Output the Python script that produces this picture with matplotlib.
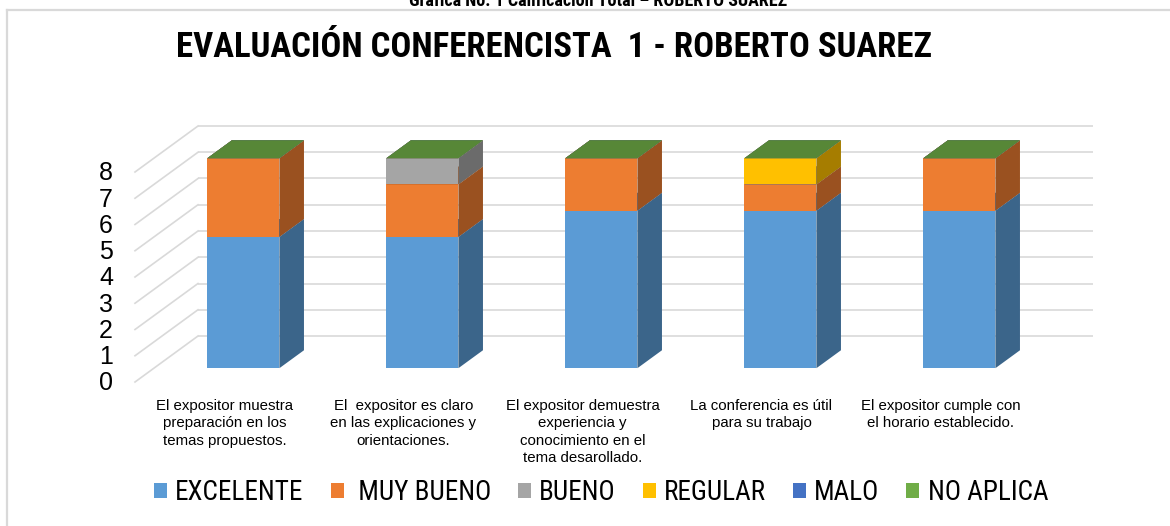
import matplotlib
matplotlib.use("Agg")
import matplotlib.pyplot as plt
from matplotlib.patches import Polygon, Patch
from matplotlib.lines import Line2D
import matplotlib.colors as mcolors

# ---------------- data ----------------
categories = [
    "El expositor muestra\npreparación en los\ntemas propuestos.",
    "El  expositor es claro\nen las explicaciones y\norientaciones.",
    "El expositor demuestra\nexperiencia y\nconocimiento en el\ntema desarollado.",
    "La conferencia es útil\npara su trabajo",
    "El expositor cumple con\nel horario establecido.",
]
series_names = ["EXCELENTE", " MUY BUENO", "BUENO", "REGULAR", "MALO", "NO APLICA"]
excelente = [5, 5, 6, 6, 6]
muy_bueno = [3, 2, 2, 1, 2]
bueno = [0, 1, 0, 0, 0]
regular = [0, 0, 0, 1, 0]
malo = [0, 0, 0, 0, 0]
no_aplica = [0, 0, 0, 0, 0]
series_values = [excelente, muy_bueno, bueno, regular, malo, no_aplica]
y_ticks = [0, 1, 2, 3, 4, 5, 6, 7, 8]
title = "EVALUACIÓN CONFERENCISTA  1 - ROBERTO SUAREZ"
caption = "Gráfica No. 1 Calificación Total – ROBERTO SUAREZ"

colors = ["#5B9BD5", "#ED7D31", "#A5A5A5", "#FFC000", "#4472C4", "#70AD47"]

# ---------------- layout ----------------
W, H = 1170, 526
fig = plt.figure(figsize=(W / 100, H / 100), dpi=100)
fig.patch.set_facecolor("white")

NARROW = ["Roboto Condensed", "Liberation Sans", "DejaVu Sans"]
REG = ["Liberation Sans", "DejaVu Sans"]

slot_px = 179.0      # pixels per category slot
unit_px = 26.25      # pixels per value unit
DX = 63.0 / slot_px  # full depth offset (x, in category units)
DY = 46.0 / unit_px  # full depth offset (y, in value units)
YMAX = 8
x0_px, y0_px = 135.0, 382.0  # front-left floor corner
ax_w = (len(categories) + DX) * slot_px
ax_h = (YMAX + DY) * unit_px
ax = fig.add_axes([x0_px / W, (H - y0_px) / H, ax_w / W, ax_h / H])
ax.set_xlim(-0.5, len(categories) - 0.5 + DX)
ax.set_ylim(0, YMAX + DY)
ax.axis("off")

grid_c = "#D9D9D9"
xl, xr = -0.5, len(categories) - 0.5
for v in y_ticks:
    ax.plot([xl + DX, xr + DX], [v + DY, v + DY], color=grid_c, lw=1.2,
            solid_capstyle="butt", clip_on=False, zorder=1)
    ax.plot([xl, xl + DX], [v, v + DY], color=grid_c, lw=1.2,
            clip_on=False, zorder=1)
    ax.text(xl - 22 / slot_px, v - 0.05, str(v), ha="right", va="center",
            fontsize=18, family=REG, color="black")


def shade(c, f):
    r, g, b = mcolors.to_rgb(c)
    return (r * f, g * f, b * f)


bar_w = 72.0 / slot_px
d_front, d_back = 0.30, 0.69
fx, fy = d_front * DX, d_front * DY
dd = d_back - d_front
for i in range(len(categories)):
    cum = 0.0
    for s, vals in enumerate(series_values):
        v = vals[i]
        c = colors[s]
        left = i + fx - bar_w / 2
        bottom = cum + fy
        if v > 0:
            ax.bar(i + fx, v, width=bar_w, bottom=bottom, color=c,
                   linewidth=0, zorder=3)
            side = [(left + bar_w, bottom), (left + bar_w + dd * DX, bottom + dd * DY),
                    (left + bar_w + dd * DX, bottom + v + dd * DY), (left + bar_w, bottom + v)]
            ax.add_patch(Polygon(side, closed=True, facecolor=shade(c, 0.65),
                                 edgecolor="none", zorder=3))
        top_y = bottom + v
        top = [(left, top_y), (left + bar_w, top_y),
               (left + bar_w + dd * DX, top_y + dd * DY), (left + dd * DX, top_y + dd * DY)]
        ax.add_patch(Polygon(top, closed=True, facecolor=shade(c, 0.78),
                             edgecolor="none", zorder=3))
        cum += v
    ax.text(i, -17 / unit_px, categories[i], ha="center", va="top",
            fontsize=10.8, family=REG, linespacing=1.3, color="black")

# ---------------- texts ----------------
fig.text(554 / W, 1 - 57 / H, title, ha="center", va="baseline",
         fontsize=25, fontweight="bold", family=NARROW, color="black")
fig.text(598 / W, 1 - 6 / H, caption, ha="center", va="baseline",
         fontsize=13, fontweight="bold", family=NARROW, color="black")

# chart border
fig.add_artist(Line2D([6.5 / W, 6.5 / W], [0, 1 - 10 / H], color="#D9D9D9", lw=1.6))
fig.add_artist(Line2D([6.5 / W, 1], [1 - 10 / H, 1 - 10 / H], color="#D9D9D9", lw=1.6))

# legend
handles = [Patch(facecolor=c, edgecolor="none") for c in colors]
fig.legend(handles, series_names, loc="center", ncol=6,
           bbox_to_anchor=(601 / W, 1 - 493 / H), frameon=False,
           prop={"family": NARROW, "size": 19.5},
           handlelength=0.48, handleheight=0.48, handletextpad=0.3,
           columnspacing=1.0, borderpad=0)

fig.savefig("out.png", dpi=100)
